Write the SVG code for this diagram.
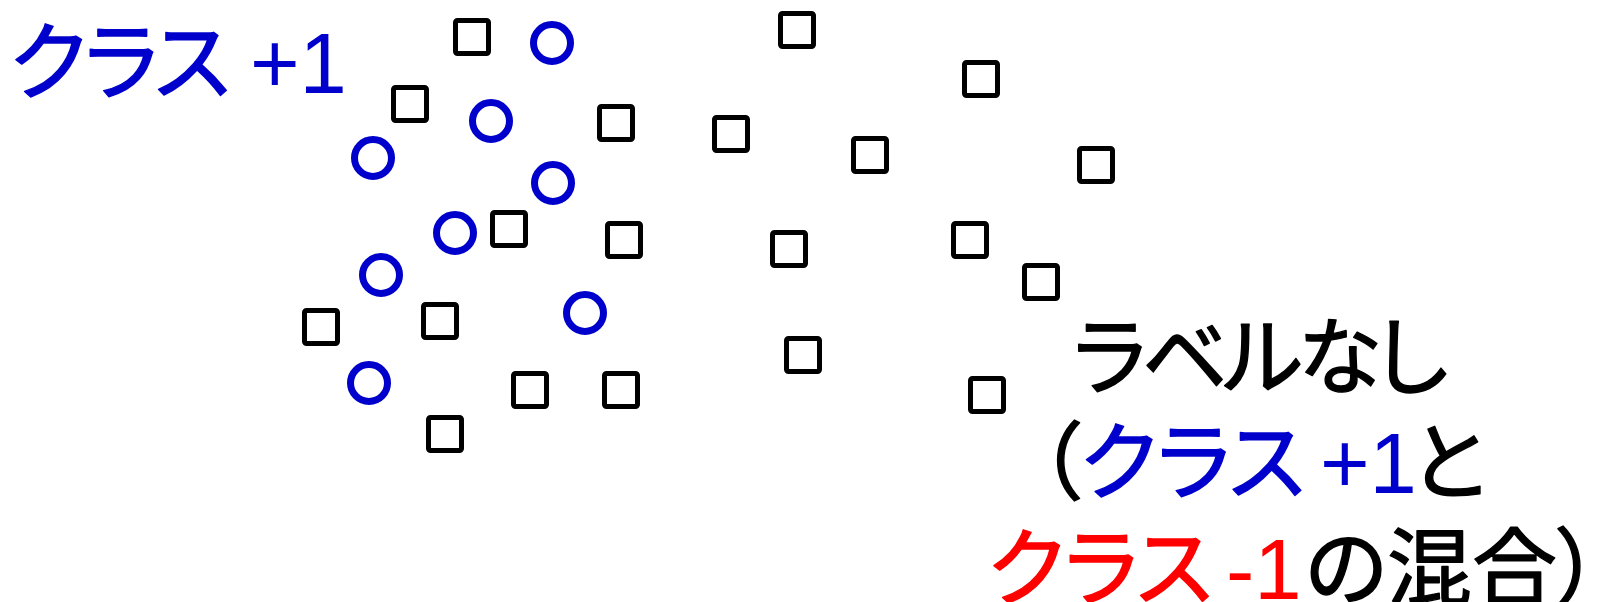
<svg xmlns="http://www.w3.org/2000/svg" width="1597" height="602" viewBox="0 0 1597 602">
<style>
.sq{fill:none;stroke:#000;stroke-width:5;stroke-linejoin:round}
.ci{fill:none;stroke:#0000CC;stroke-width:7}
.t{font-family:"Noto Sans CJK JP",sans-serif;font-size:85px;font-weight:400;font-feature-settings:"palt" 1;stroke-width:1.4;stroke-linejoin:round}
.lat{font-family:Arial,"Liberation Sans",sans-serif;font-weight:400;stroke-width:0;font-feature-settings:normal;letter-spacing:0}
.b{fill:#0000CC;stroke:#0000CC}.r{fill:#FF0000;stroke:#FF0000}.k{fill:#000;stroke:#000}
</style>
<rect width="1597" height="602" fill="#fff"/>
<g id="squares">
<g id="sq1"><rect class="sq" x="455.5" y="20.5" width="33" height="33" rx="2"/></g>
<g id="sq2"><rect class="sq" x="780.5" y="13.5" width="33" height="33" rx="2"/></g>
<g id="sq3"><rect class="sq" x="964.5" y="62.5" width="33" height="33" rx="2"/></g>
<g id="sq4"><rect class="sq" x="393.5" y="87.5" width="33" height="33" rx="2"/></g>
<g id="sq5"><rect class="sq" x="599.5" y="106.5" width="33" height="33" rx="2"/></g>
<g id="sq6"><rect class="sq" x="714.5" y="117.5" width="33" height="33" rx="2"/></g>
<g id="sq7"><rect class="sq" x="853.5" y="138.5" width="33" height="33" rx="2"/></g>
<g id="sq8"><rect class="sq" x="1079.5" y="148.5" width="33" height="33" rx="2"/></g>
<g id="sq9"><rect class="sq" x="492.5" y="212.5" width="33" height="33" rx="2"/></g>
<g id="sq10"><rect class="sq" x="607.5" y="223.5" width="33" height="33" rx="2"/></g>
<g id="sq11"><rect class="sq" x="772.5" y="232.5" width="33" height="33" rx="2"/></g>
<g id="sq12"><rect class="sq" x="953.5" y="223.5" width="33" height="33" rx="2"/></g>
<g id="sq13"><rect class="sq" x="1024.5" y="265.5" width="33" height="33" rx="2"/></g>
<g id="sq14"><rect class="sq" x="304.5" y="310.5" width="33" height="33" rx="2"/></g>
<g id="sq15"><rect class="sq" x="423.5" y="304.5" width="33" height="33" rx="2"/></g>
<g id="sq16"><rect class="sq" x="786.5" y="338.5" width="33" height="33" rx="2"/></g>
<g id="sq17"><rect class="sq" x="513.5" y="373.5" width="33" height="33" rx="2"/></g>
<g id="sq18"><rect class="sq" x="604.5" y="373.5" width="33" height="33" rx="2"/></g>
<g id="sq19"><rect class="sq" x="970.5" y="378.5" width="33" height="33" rx="2"/></g>
<g id="sq20"><rect class="sq" x="428.5" y="417.5" width="33" height="33" rx="2"/></g>
</g>
<g id="circles">
<g id="c1"><circle class="ci" cx="552" cy="43" r="18.5"/></g>
<g id="c2"><circle class="ci" cx="491" cy="121" r="18.5"/></g>
<g id="c3"><circle class="ci" cx="373" cy="158" r="18.5"/></g>
<g id="c4"><circle class="ci" cx="553" cy="183" r="18.5"/></g>
<g id="c5"><circle class="ci" cx="455" cy="233" r="18.5"/></g>
<g id="c6"><circle class="ci" cx="381" cy="275" r="18.5"/></g>
<g id="c7"><circle class="ci" cx="585" cy="313" r="18.5"/></g>
<g id="c8"><circle class="ci" cx="369" cy="383" r="18.5"/></g>
</g>
<g id="label-plus">
<text class="t b" x="10" y="93" letter-spacing="-2">クラス<tspan class="lat" x="226 250 299.6"> +1</tspan></text>
</g>
<g id="label-unlabeled">
<text class="t k" x="1073" y="388" letter-spacing="-5">ラベルなし</text>
<text class="t k" x="1038" y="493">（<tspan class="b">クラス<tspan class="lat" x="1296 1320 1369.6"> +1</tspan></tspan><tspan x="1411">と</tspan></text>
<text class="t r" x="988" y="599">クラス<tspan class="lat" x="1202 1226 1254.3"> -1</tspan><tspan class="k" x="1305">の混合）</tspan></text>
</g>
</svg>
